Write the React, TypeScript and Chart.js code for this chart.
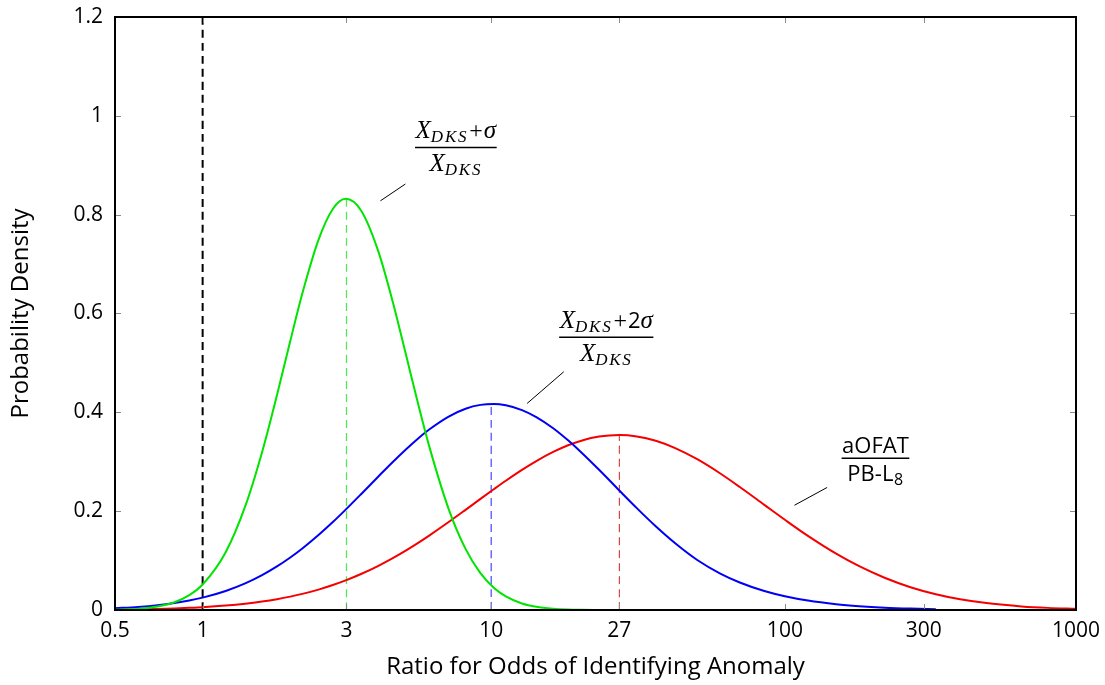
import React, { useEffect, useRef } from 'react';
import { Chart, registerables } from 'chart.js';

Chart.register(...registerables);

// ---- data ----
const xValues = [0.5, 0.6, 0.7, 0.8, 0.9, 1, 1.2, 1.4, 1.6, 1.8, 2, 2.2, 2.5, 2.8, 3.1, 3.5, 4, 4.5, 5, 5.5, 6, 7, 8, 9, 10, 11, 12.5, 14, 16, 18, 20, 23, 27, 31, 36, 42, 50, 60, 70, 85, 100, 120, 150, 180, 220, 270, 330, 400, 500, 650, 800, 1000];

const greenSeries = [0.0006, 0.0024, 0.0069, 0.0156, 0.0301, 0.0516, 0.117, 0.2096, 0.3194, 0.4347, 0.5443, 0.6404, 0.7489, 0.8115, 0.832, 0.8085, 0.7283, 0.6234, 0.5154, 0.4167, 0.3316, 0.2043, 0.1236, 0.0745, 0.045, 0.0274, 0.0132, 0.0065, 0.0027, 0.0011, 0.0005, 0.0001, null, null, null, null, null, null, null, null, null, null, null, null, null, null, null, null, null, null, null, null];

const blueSeries = [0.0035, 0.0062, 0.0097, 0.0141, 0.0192, 0.025, 0.0385, 0.0538, 0.0705, 0.0881, 0.1062, 0.1244, 0.1516, 0.1779, 0.2031, 0.2343, 0.2692, 0.2996, 0.3254, 0.3472, 0.3652, 0.3915, 0.4073, 0.4151, 0.417, 0.4143, 0.4046, 0.3904, 0.3678, 0.3433, 0.3188, 0.2837, 0.2418, 0.2061, 0.1694, 0.135, 0.1012, 0.0737, 0.0557, 0.0384, 0.0278, 0.019, 0.0117, 0.0077, 0.0047, 0.0028, 0.0016, null, null, null, null, null];

const redSeries = [0.0008, 0.0014, 0.0022, 0.0032, 0.0044, 0.0057, 0.0089, 0.0127, 0.0171, 0.0219, 0.0271, 0.0326, 0.0413, 0.0505, 0.0599, 0.0728, 0.089, 0.105, 0.1207, 0.1359, 0.1506, 0.178, 0.2027, 0.2248, 0.2443, 0.2616, 0.2836, 0.3014, 0.3198, 0.3333, 0.3426, 0.3509, 0.354, 0.3511, 0.3424, 0.3277, 0.3051, 0.2762, 0.2489, 0.2128, 0.1826, 0.15, 0.114, 0.0886, 0.0652, 0.0461, 0.0319, 0.0217, 0.0135, 0.0073, 0.0043, 0.0024];

const xTickValues = [0.5, 1, 3.12, 9.8, 27, 100, 300, 1000];
const xTickLabels = ['0.5', '1', '3', '10', '27', '100', '300', '1000'];

const yMin = 0;
const yMax = 1.2;
const yStep = 0.2;

// reference line at ratio 1, median lines of each distribution
const baselineRatio = 1;
const medianX = [3.12, 9.8, 27];
const medianPeak = [0.832, 0.417, 0.354];

// fraction labels (anchor = fraction bar centre, in data units)
const fracX = [7.41, 24.35, 204.7];
const fracY = [0.936, 0.552, 0.307];
const pinFromX = [4.08, 13.02, 107.9];
const pinFromY = [0.828, 0.418, 0.212];
const pinToX = [4.97, 17.39, 139.7];
const pinToY = [0.862, 0.482, 0.248];
const fracNumerators = [
  [['X', 'mi'], ['DKS', 'msub'], ['+', 'mop'], ['σ', 'mi']],
  [['X', 'mi'], ['DKS', 'msub'], ['+', 'mop'], ['2', 'sans'], ['σ', 'mi']],
  [['aOFAT', 'sans']],
];
const fracDenominators = [
  [['X', 'mi'], ['DKS', 'msub']],
  [['X', 'mi'], ['DKS', 'msub']],
  [['PB-L', 'sans'], ['8', 'sanssub']],
];

const xTitle = 'Ratio for Odds of Identifying Anomaly';
const yTitle = 'Probability Density';

// ---- styles ----
const SANS = '"Open Sans", "Noto Sans", sans-serif';
const SERIF = '"Liberation Serif", "DejaVu Serif", serif';
const segStyle: Record<string, { font: string; dy: number; ls: number; gap: number }> = {
  mi: { font: `italic 25px ${SERIF}`, dy: 0, ls: 0, gap: 0 },
  msub: { font: `italic 17px ${SERIF}`, dy: 4, ls: 1.8, gap: 0 },
  mop: { font: `24px ${SERIF}`, dy: 0, ls: 0, gap: 1 },
  sans: { font: `22px ${SANS}`, dy: 0, ls: 0, gap: 0 },
  sanssub: { font: `16px ${SANS}`, dy: 4, ls: 0, gap: 0.5 },
};
const numOffset = [-9, -9, -5];
const denOffset = [24, 24, 23];

function drawRun(ctx: CanvasRenderingContext2D, segs: string[][], cx: number, baseline: number) {
  const widths = segs.map(([t, k]) => {
    const st = segStyle[k];
    ctx.font = st.font;
    (ctx as any).letterSpacing = st.ls + 'px';
    return ctx.measureText(t).width + st.gap * 2;
  });
  const total = widths.reduce((a, b) => a + b, 0);
  let x = cx - total / 2;
  segs.forEach(([t, k], i) => {
    const st = segStyle[k];
    ctx.font = st.font;
    (ctx as any).letterSpacing = st.ls + 'px';
    ctx.fillText(t, x + st.gap, baseline + st.dy);
    x += widths[i];
  });
  (ctx as any).letterSpacing = '0px';
  return total;
}

const framePlugin = {
  id: 'frameAndLabels',
  afterDatasetsDraw(chart: any) {
    const { ctx, chartArea: a, scales } = chart;
    const xs = scales.x;
    const ys = scales.y;
    ctx.save();
    // inner tick marks on all four sides
    ctx.strokeStyle = '#8a8a8a';
    ctx.lineWidth = 1;
    ctx.beginPath();
    xTickValues.forEach((v) => {
      const px = Math.round(xs.getPixelForValue(v)) + 0.5;
      if (px < a.left + 3 || px > a.right - 3) return;
      ctx.moveTo(px, a.bottom);
      ctx.lineTo(px, a.bottom - 6);
      ctx.moveTo(px, a.top);
      ctx.lineTo(px, a.top + 6);
    });
    for (let v = yMin + yStep; v < yMax - 1e-9; v += yStep) {
      const py = Math.round(ys.getPixelForValue(v)) + 0.5;
      ctx.moveTo(a.left, py);
      ctx.lineTo(a.left + 6, py);
      ctx.moveTo(a.right, py);
      ctx.lineTo(a.right - 6, py);
    }
    ctx.stroke();
    // frame
    ctx.strokeStyle = '#000';
    ctx.lineWidth = 2;
    ctx.strokeRect(a.left, a.top, a.right - a.left, a.bottom - a.top);

    // fraction annotations with pin lines
    ctx.fillStyle = '#000';
    ctx.textBaseline = 'alphabetic';
    ctx.textAlign = 'left';
    for (let i = 0; i < fracX.length; i++) {
      const cx = xs.getPixelForValue(fracX[i]);
      const by = ys.getPixelForValue(fracY[i]);
      const wN = drawRun(ctx, fracNumerators[i], cx, by + numOffset[i]);
      const wD = drawRun(ctx, fracDenominators[i], cx, by + denOffset[i]);
      const w = Math.max(wN, wD) + 1;
      ctx.strokeStyle = '#000';
      ctx.lineWidth = 1.5;
      ctx.beginPath();
      ctx.moveTo(cx - w / 2, by);
      ctx.lineTo(cx + w / 2, by);
      ctx.stroke();
      ctx.lineWidth = 1;
      ctx.beginPath();
      ctx.moveTo(xs.getPixelForValue(pinFromX[i]), ys.getPixelForValue(pinFromY[i]));
      ctx.lineTo(xs.getPixelForValue(pinToX[i]), ys.getPixelForValue(pinToY[i]));
      ctx.stroke();
    }
    ctx.restore();
  },
};

export default function App() {
  const canvasRef = useRef<HTMLCanvasElement | null>(null);

  useEffect(() => {
    const canvas = canvasRef.current;
    if (!canvas) return;
    const pts = (ys: (number | null)[]) => xValues.map((x, i) => ({ x, y: ys[i] }));
    const medianColors = ['#55e855', '#5555ff', '#cc2020'];
    const medianWidths = [1.3, 1.3, 1];

    const datasets: any[] = [
      { data: pts(greenSeries), borderColor: '#00e400', borderWidth: 2 },
      { data: pts(blueSeries), borderColor: '#0000f5', borderWidth: 2 },
      { data: pts(redSeries), borderColor: '#f50000', borderWidth: 2 },
      {
        data: [{ x: baselineRatio, y: yMin }, { x: baselineRatio, y: yMax }],
        borderColor: '#000',
        borderWidth: 2,
        borderDash: [8, 5],
      },
      ...medianX.map((mx, i) => ({
        data: [{ x: mx, y: 0 }, { x: mx, y: medianPeak[i] }],
        borderColor: medianColors[i],
        borderWidth: medianWidths[i],
        borderDash: [8, 5],
      })),
    ];

    const chart = new Chart(canvas, {
      type: 'line',
      data: { datasets },
      options: {
        animation: false,
        responsive: false,
        devicePixelRatio: 1,
        parsing: true,
        spanGaps: false,
        elements: {
          point: { radius: 0, hoverRadius: 0 },
          line: { tension: 0, cubicInterpolationMode: 'monotone', fill: false },
        },
        layout: { padding: { top: 17, right: 29, left: 0, bottom: 0 } },
        plugins: {
          legend: { display: false },
          tooltip: { enabled: false },
        },
        events: [],
        scales: {
          x: {
            type: 'logarithmic',
            min: 0.5,
            max: 1000,
            grid: { display: false, drawTicks: false },
            border: { display: false },
            afterBuildTicks: (s: any) => {
              s.ticks = xTickValues.map((v) => ({ value: v }));
            },
            afterFit: (s: any) => {
              s.height = 75;
              s.paddingLeft = 0;
              s.paddingRight = 0;
            },
            ticks: {
              autoSkip: false,
              maxRotation: 0,
              minRotation: 0,
              padding: 8,
              color: '#000',
              font: { family: SANS, size: 21 },
              callback: (_v: any, i: number) => xTickLabels[i],
            },
            title: {
              display: true,
              text: xTitle,
              color: '#000',
              font: { family: SANS, size: 24 },
              padding: { top: 0, bottom: 3 },
            },
          },
          y: {
            type: 'linear',
            min: yMin,
            max: yMax,
            grid: { display: false, drawTicks: false },
            border: { display: false },
            afterFit: (s: any) => {
              s.width = 115;
              s.paddingTop = 0;
              s.paddingBottom = 0;
            },
            ticks: {
              stepSize: yStep,
              padding: 12,
              color: '#000',
              font: { family: SANS, size: 21 },
              callback: (v: any) => String(parseFloat(Number(v).toFixed(1))),
            },
            title: {
              display: true,
              text: yTitle,
              color: '#000',
              font: { family: SANS, size: 24 },
              padding: { top: 7, bottom: 0 },
            },
          },
        },
      },
      plugins: [framePlugin],
    } as any);

    return () => chart.destroy();
  }, []);

  return (
    <div style={{ position: 'fixed', left: 0, top: 0, width: 1105, height: 685, background: '#fff' }}>
      <canvas ref={canvasRef} width={1105} height={685} style={{ width: 1105, height: 685, display: 'block' }} />
    </div>
  );
}
